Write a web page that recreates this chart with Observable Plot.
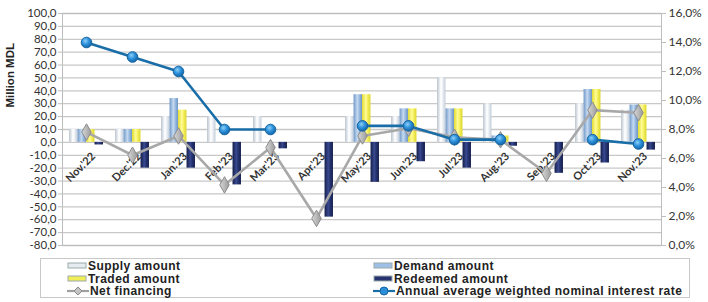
<!DOCTYPE html>
<html><head><meta charset="utf-8">
<script src="https://cdn.jsdelivr.net/npm/d3@7"></script>
<script src="https://cdn.jsdelivr.net/npm/@observablehq/plot@0.6"></script>
<style>
body{margin:0;background:#fff;font-family:"Liberation Sans",Arial,sans-serif;}
#wrap{width:708px;}
#legend{margin:6px 0 0 40px;width:650px;height:40px;border:1px solid #c8c8c8;box-sizing:border-box;display:grid;grid-template-columns:306px 336px;padding:1px 0 0 26px;font-weight:bold;font-size:12px;letter-spacing:0.45px;color:#222;line-height:12.6px;font-family:"Liberation Sans",Arial,sans-serif;}
.it{display:flex;align-items:center;white-space:nowrap;}
.it svg{margin-right:1px;}
</style></head>
<body><div id="wrap"><div id="chart"></div><div id="legend"></div></div>
<script>
const months = ["Nov.'22","Dec.'22","Jan.'23","Feb.'23","Mar.'23","Apr.'23","May.'23","Jun.'23","Jul.'23","Aug.'23","Sep.'23","Oct.'23","Nov.'23"];
const supply   = [10, 10, 20, 20, 20, 0, 20, 20, 50, 30, 0, 30, 25];
const demand   = [10, 10, 34, 0, 0, 0, 37, 26, 26, 5, 0, 41, 29];
const traded   = [10, 10, 25, 0, 0, 0, 37, 26, 26, 5, 0, 41, 29];
const redeemed = [-2, -20, -20, -33, -5, -58, -31, -15, -20, -3, -24, -16, -6];
const net      = [8, -10, 5, -33, -4, -59, 5, 11, 4, 2, -24, 25, 23];
const rate     = [14.0, 13.0, 12.0, 8.0, 8.0, null, 8.25, 8.25, 7.3, 7.3, null, 7.3, 7.0];
const leftTicks = [-80,-70,-60,-50,-40,-30,-20,-10,0,10,20,30,40,50,60,70,80,90,100];
const rightTicks = [0,2,4,6,8,10,12,14,16];
const yTitle = "Million MDL";
const seriesNames = ["Supply amount","Demand amount","Traded amount","Redeemed amount","Net financing","Annual average weighted nominal interest rate"];

// secondary axis (0..16%) mapped onto primary (-80..100)
const toLeft = p => -80 + p * (180 / 16);
const fmt1 = v => v.toFixed(1).replace(".", ",");

const data = months.map((m, i) => ({
  month: m, supply: supply[i], demand: demand[i], traded: traded[i],
  redeemed: redeemed[i], net: net[i], rate: rate[i] == null ? NaN : toLeft(rate[i])
}));

const bw = 599 / 13, slot = 8.5, off = bw / 2 - 2 * slot;
const inset = i => ({insetLeft: off + slot * i, insetRight: bw - off - slot * (i + 1)});

const chart = Plot.plot({
  width: 708, height: 252,
  marginLeft: 62, marginRight: 47, marginTop: 13, marginBottom: 7,
  style: {fontFamily: "Lato, 'Open Sans', sans-serif", fontSize: "11.5px", color: "#333", background: "#fff"},
  x: {domain: months, type: "band", paddingInner: 0, paddingOuter: 0, axis: null},
  y: {domain: [-80, 100], axis: null},
  marks: [
    Plot.ruleY(leftTicks, {stroke: "#c8c8c8", strokeWidth: 1.3}),
    Plot.frame({stroke: "#bdbdbd"}),
    Plot.axisY(leftTicks, {anchor: "left", tickFormat: fmt1, tickSize: 4, stroke: "#bdbdbd", fill: "#333", tickPadding: 2, fontSize: 11.5}),
    Plot.axisY(rightTicks.map(toLeft), {anchor: "right", tickFormat: v => fmt1((v + 80) * 16 / 180) + "%", tickSize: 4, stroke: "#bdbdbd", fill: "#333", tickPadding: 3, fontSize: 12}),
    Plot.text([yTitle], {frameAnchor: "left", dx: -52, dy: -22, rotate: -90, fontWeight: "bold", fontSize: 11.5, fill: "#222", fontFamily: "Liberation Sans, Arial, sans-serif"}),
    Plot.barY(data, {x: "month", y: "supply", fill: "url(#gSupply)", ...inset(0)}),
    Plot.barY(data, {x: "month", y: "demand", fill: "url(#gDemand)", ...inset(1)}),
    Plot.barY(data, {x: "month", y: "traded", fill: "url(#gTraded)", ...inset(2)}),
    Plot.barY(data, {x: "month", y: "redeemed", fill: "url(#gRedeemed)", ...inset(3)}),
    Plot.text(data, {x: "month", y: () => 0, text: "month", rotate: -45, textAnchor: "end", dx: 7, dy: 12, fontWeight: "bold", fontSize: 11, fill: "#333"}),
    Plot.line(data, {x: "month", y: "net", stroke: "#a8a8a8", strokeWidth: 2.6}),
    Plot.dot(data, {x: "month", y: "net", symbol: "diamond", r: 5, fill: "url(#gDiamond)", stroke: "#8c8c8c", strokeWidth: 1}),
    Plot.line(data, {x: "month", y: "rate", stroke: "#1a6ea8", strokeWidth: 2.6}),
    Plot.dot(data.filter(d => !isNaN(d.rate)), {x: "month", y: "rate", r: 5.3, fill: "url(#gDot)", stroke: "#1665a0", strokeWidth: 1})
  ]
});

const NS = "http://www.w3.org/2000/svg";
function addDefs(svg) {
  const defs = document.createElementNS(NS, "defs");
  const lin = (id, stops) => {
    const g = document.createElementNS(NS, "linearGradient");
    g.setAttribute("id", id); g.setAttribute("x1", "0"); g.setAttribute("x2", "1"); g.setAttribute("y1", "0"); g.setAttribute("y2", "0");
    stops.forEach(([o, c]) => { const s = document.createElementNS(NS, "stop"); s.setAttribute("offset", o); s.setAttribute("stop-color", c); g.appendChild(s); });
    defs.appendChild(g);
  };
  lin("gSupply", [["0","#b9c3ce"],["0.45","#ffffff"],["0.6","#f4f7fa"],["1","#c2ccd7"]]);
  lin("gDemand", [["0","#6f98c8"],["0.45","#c6daf0"],["0.6","#a9c6e8"],["1","#6a93c4"]]);
  lin("gTraded", [["0","#e2dc2a"],["0.45","#fffc9c"],["0.6","#f8f46a"],["1","#ddd62a"]]);
  lin("gRedeemed", [["0","#141d4a"],["0.45","#3a4a90"],["0.6","#2a3878"],["1","#141d4a"]]);
  lin("gDiamond", [["0","#d8d8d8"],["1","#9a9a9a"]]);
  const r = document.createElementNS(NS, "radialGradient");
  r.setAttribute("id", "gDot"); r.setAttribute("cx", "0.4"); r.setAttribute("cy", "0.35"); r.setAttribute("r", "0.65");
  [["0","#8fd0f7"],["0.5","#2e92dc"],["1","#1466a8"]].forEach(([o, c]) => { const s = document.createElementNS(NS, "stop"); s.setAttribute("offset", o); s.setAttribute("stop-color", c); r.appendChild(s); });
  defs.appendChild(r);
  svg.insertBefore(defs, svg.firstChild);
  return defs;
}
addDefs(chart);
document.getElementById("chart").appendChild(chart);

// legend
const swatch = (grad) => `<svg width="20" height="8"><rect x="1" y="1" width="18" height="5" fill="${grad}" stroke="#9aa"/></svg>`;
const lineSw = (color, marker) => `<svg width="22" height="10"><line x1="0" y1="5" x2="22" y2="5" stroke="${color}" stroke-width="2.2"/>${marker}</svg>`;
const legendGrads = ["#e6ebf0","#9fc0e6","#f2ee58","#26336e"];
const items = [
  swatch(legendGrads[0]) , swatch(legendGrads[1]), swatch(legendGrads[2]), swatch(legendGrads[3]),
  lineSw("#a0a0a0", '<path d="M11 1 L15 5 L11 9 L7 5 Z" fill="#c4c4c4" stroke="#888"/>'),
  lineSw("#1a6ea8", '<circle cx="11" cy="5" r="4" fill="#2a8fd8" stroke="#1665a0"/>')
];
const lg = document.getElementById("legend");
seriesNames.forEach((n, i) => {
  const d = document.createElement("div"); d.className = "it";
  d.innerHTML = items[i] + "<span>" + n + "</span>";
  lg.appendChild(d);
});
</script></body></html>
